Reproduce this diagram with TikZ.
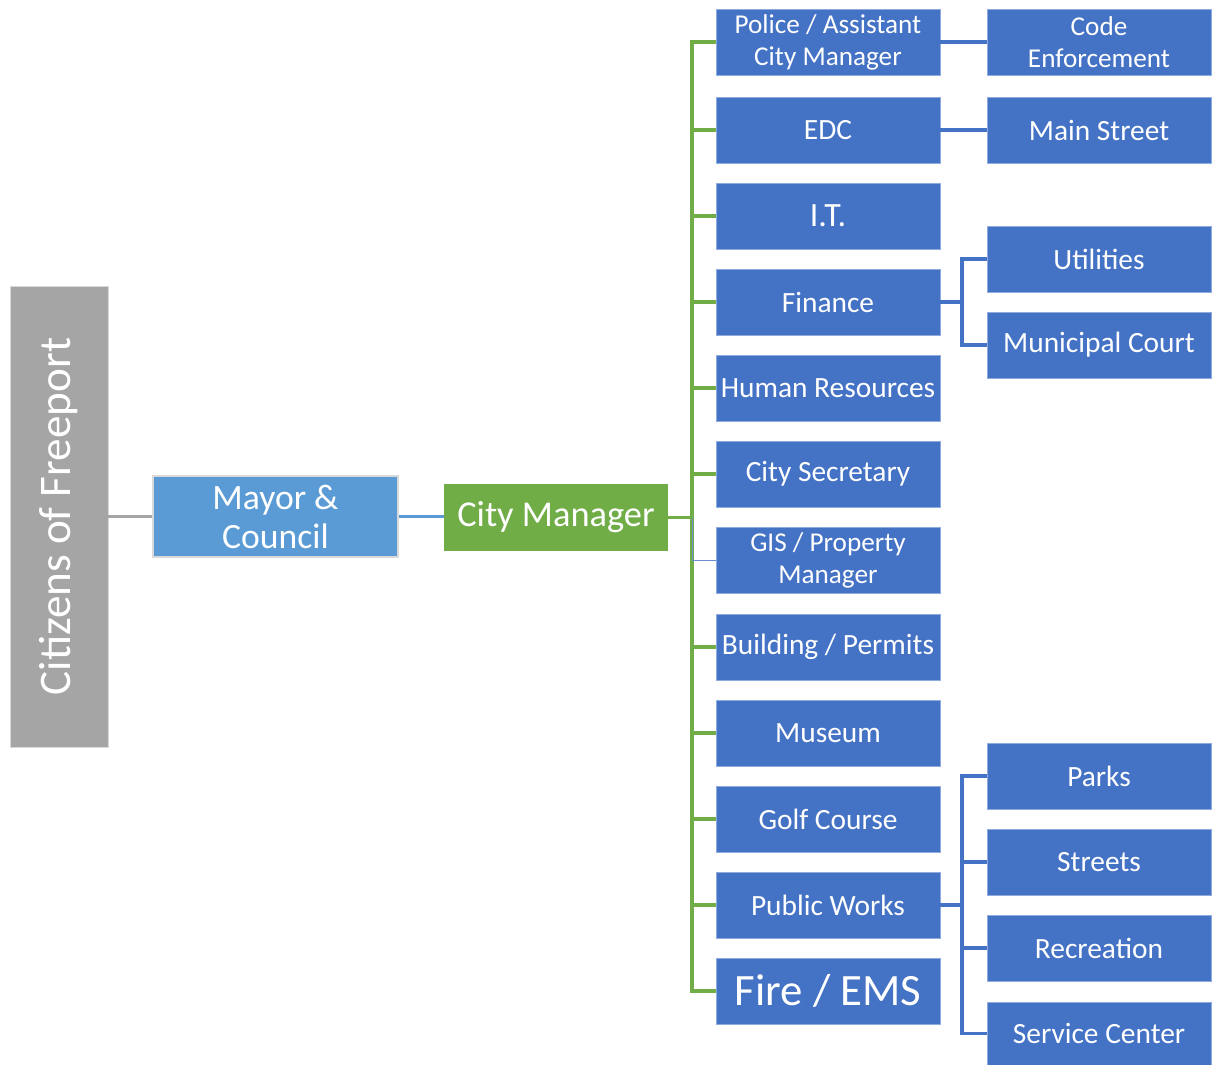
\documentclass[tikz,border=0pt]{standalone}
\usepackage{fontspec}
\setmainfont{Carlito}
\usepackage{tikz}
\usetikzlibrary{positioning,calc}
\definecolor{deptblue}{HTML}{4472C4}
\definecolor{mayorblue}{HTML}{5B9BD5}
\definecolor{mgrgreen}{HTML}{70AD47}
\definecolor{citgray}{HTML}{A5A5A5}
\definecolor{edgeblue}{HTML}{8FAADC}
\tikzset{
  deptbox/.style={draw=edgeblue, line width=0.4pt, fill=deptblue,
    text=white, minimum width=112pt, minimum height=33pt,
    inner sep=0pt, align=center, font=\fontsize{14.7}{16}\selectfont},
  twoline/.style={font=\fontsize{13.6}{16}\selectfont},
  mayorbox/.style={draw=white!85!black, line width=0.6pt, fill=mayorblue,
    text=white, minimum width=122.5pt, minimum height=40.5pt,
    inner sep=0pt, align=center, font=\fontsize{17.8}{19.5}\selectfont},
  mgrbox/.style={fill=mgrgreen, text=white, minimum width=112pt,
    minimum height=33.5pt, inner sep=0pt, font=\fontsize{18.2}{20}\selectfont},
  citbox/.style={draw=white!85!black, line width=0.4pt, fill=citgray,
    text=white, minimum width=230.5pt, minimum height=49pt,
    inner sep=0pt, font=\fontsize{22.6}{24}\selectfont},
  trunk/.style={draw=mgrgreen, line width=1.8pt},
  branch/.style={draw=deptblue, line width=1.8pt},
  thinlink/.style={draw=deptblue!80!white, line width=0.5pt},
}

\begin{document}
\begin{tikzpicture}[x=0.5pt, y=-0.5pt]
  \useasboundingbox (0,0) rectangle (1212,1065);

  % Top of the chart
  \node[citbox, rotate=90] (cit) at (59,516.5) {Citizens of Freeport};
  \node[mayorbox] (mayor) at (275.5,516.5) {Mayor \&\\Council};
  \node[mgrbox] (mgr) at (556,517.5) {City Manager};

  % Departments
  \node[deptbox, twoline] (police) at (828,42) {Police / Assistant\\City Manager};
  \node[deptbox] (edc)  at (828,130) {EDC};
  \node[deptbox, font=\fontsize{17}{18}\selectfont] (it) at (828,216) {I.T.};
  \node[deptbox] (fin)  at (828,302) {Finance};
  \node[deptbox] (hr)   at (828,388) {Human Resources};
  \node[deptbox] (sec)  at (828,474) {City Secretary};
  \node[deptbox, twoline] (gis) at (828,560) {GIS / Property\\Manager};
  \node[deptbox] (bld)  at (828,647) {Building / Permits};
  \node[deptbox] (mus)  at (828,733) {Museum};
  \node[deptbox] (golf) at (828,819) {Golf Course};
  \node[deptbox] (pw)   at (828,905) {Public Works};
  \node[deptbox, font=\fontsize{22.4}{24}\selectfont] (fire) at (828,991) {Fire / EMS};

  % Divisions
  \node[deptbox, twoline] (code) at (1099,42) {Code\\Enforcement};
  \node[deptbox] (main)    at (1099,130) {Main Street};
  \node[deptbox] (util)    at (1099,259) {Utilities};
  \node[deptbox] (court)   at (1099,345) {Municipal Court};
  \node[deptbox] (parks)   at (1099,776) {Parks};
  \node[deptbox] (streets) at (1099,862) {Streets};
  \node[deptbox] (rec)     at (1099,948) {Recreation};
  \node[deptbox, minimum height=31.5pt] (svc) at (1099,1033.5) {Service Center};

  % Links
  \draw[draw=citgray, line width=1.8pt] (cit.south) -- (mayor.west);
  \draw[draw=mayorblue, line width=1.8pt] (mayor.east) -- (mayor.east -| mgr.west);

  \coordinate (jn) at (692,517.5);
  \draw[trunk] (mgr.east) -- (jn);
  \draw[trunk] (police.west) -| (jn) |- (fire.west);
  \foreach \d in {edc,it,fin,hr,sec,bld,mus,golf,pw}
    \draw[trunk] (\d.west) -- (\d.west -| jn);
  \draw[thinlink] (jn) |- (gis.west);

  \draw[branch] (police.east) -- (code.west);
  \draw[branch] (edc.east) -- (main.west);

  \coordinate (finj) at (962,302);
  \draw[branch] (fin.east) -- (finj);
  \draw[branch] (util.west) -| (finj) |- (court.west);

  \coordinate (pwj) at (962,905);
  \draw[branch] (pw.east) -- (pwj);
  \draw[branch] (parks.west) -| (pwj) |- (svc.west);
  \draw[branch] (streets.west) -- (streets.west -| pwj);
  \draw[branch] (rec.west) -- (rec.west -| pwj);
\end{tikzpicture}
\end{document}
